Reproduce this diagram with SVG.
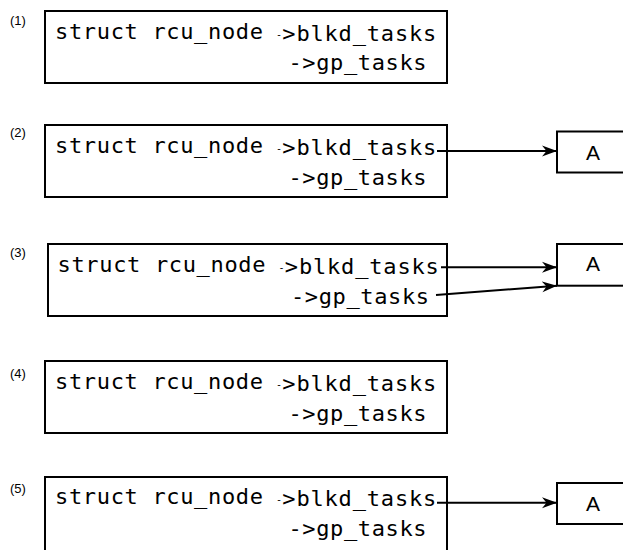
<svg xmlns="http://www.w3.org/2000/svg" width="623" height="550" viewBox="0 0 623 550">
<defs>
<style>
.box{fill:#fff;stroke:#000;stroke-width:2}
.mono{font-family:"DejaVu Sans Mono","Liberation Mono",monospace;font-size:22px;fill:#000}
.dash{font-family:"DejaVu Sans Mono","Liberation Mono",monospace;font-size:10px;fill:#000}
.lbl{font-family:"Liberation Sans",Arial,sans-serif;font-size:13px;fill:#000}
.a{font-family:"Liberation Sans",Arial,sans-serif;font-size:21px;fill:#000;text-anchor:middle}
.conn{fill:none;stroke:#000;stroke-width:2;marker-end:url(#arr)}
</style>
<marker id="arr" markerUnits="userSpaceOnUse" markerWidth="18" markerHeight="14" viewBox="0 -7 18 14" refX="15" refY="0" orient="auto">
<path d="M0,-5.5 L15,0 L0,5.5 L4.5,0 z" fill="#000"/>
</marker>
</defs>

<g id="panel1">
<text class="lbl" x="10" y="25">(1)</text>
<rect class="box" x="45" y="11" width="402" height="72"/>
<text class="mono" x="55" y="38.5" textLength="208" lengthAdjust="spacing">struct rcu_node</text>
<text class="dash" x="276" y="38">-</text>
<text class="mono" x="282.3" y="41" textLength="154" lengthAdjust="spacing">&gt;blkd_tasks</text>
<text class="mono" x="288.5" y="69.5" textLength="138" lengthAdjust="spacing">-&gt;gp_tasks</text>
</g>

<g id="panel2">
<text class="lbl" x="10" y="137">(2)</text>
<rect class="box" x="45" y="125" width="402" height="72"/>
<text class="mono" x="55" y="152.5" textLength="208" lengthAdjust="spacing">struct rcu_node</text>
<text class="dash" x="276" y="152">-</text>
<text class="mono" x="282.3" y="155" textLength="154" lengthAdjust="spacing">&gt;blkd_tasks</text>
<text class="mono" x="288.5" y="184.5" textLength="138" lengthAdjust="spacing">-&gt;gp_tasks</text>
</g>
<g id="A2">
<rect class="box" x="557" y="131.5" width="68" height="41"/>
<text class="a" x="593" y="159.5">A</text>
</g>

<g id="panel3">
<text class="lbl" x="10" y="257">(3)</text>
<rect class="box" x="48" y="244" width="399" height="72"/>
<text class="mono" x="57.5" y="271.7" textLength="208" lengthAdjust="spacing">struct rcu_node</text>
<text class="dash" x="278.5" y="271">-</text>
<text class="mono" x="284.8" y="273.5" textLength="154" lengthAdjust="spacing">&gt;blkd_tasks</text>
<text class="mono" x="291" y="303.5" textLength="138" lengthAdjust="spacing">-&gt;gp_tasks</text>
</g>
<g id="A3">
<rect class="box" x="557" y="244" width="68" height="41.7"/>
<text class="a" x="593" y="271">A</text>
</g>

<g id="panel4">
<text class="lbl" x="10" y="378">(4)</text>
<rect class="box" x="45" y="361" width="402" height="72"/>
<text class="mono" x="55" y="388.5" textLength="208" lengthAdjust="spacing">struct rcu_node</text>
<text class="dash" x="276" y="388">-</text>
<text class="mono" x="282.3" y="391" textLength="154" lengthAdjust="spacing">&gt;blkd_tasks</text>
<text class="mono" x="288.5" y="420.5" textLength="138" lengthAdjust="spacing">-&gt;gp_tasks</text>
</g>

<g id="panel5">
<text class="lbl" x="10" y="493">(5)</text>
<rect class="box" x="45" y="477" width="402" height="80"/>
<text class="mono" x="55" y="503.5" textLength="208" lengthAdjust="spacing">struct rcu_node</text>
<text class="dash" x="276" y="503">-</text>
<text class="mono" x="282.3" y="506" textLength="154" lengthAdjust="spacing">&gt;blkd_tasks</text>
<text class="mono" x="288.5" y="535.5" textLength="138" lengthAdjust="spacing">-&gt;gp_tasks</text>
</g>
<g id="A5">
<rect class="box" x="557" y="483" width="68" height="41"/>
<text class="a" x="593" y="511">A</text>
</g>

<g id="connectors">
<line class="conn" x1="437" y1="151" x2="557" y2="151"/>
<line class="conn" x1="441" y1="267.3" x2="557" y2="267.3"/>
<line class="conn" x1="436" y1="295" x2="557" y2="285.7"/>
<line class="conn" x1="437" y1="502.7" x2="557" y2="502.7"/>
</g>
</svg>
